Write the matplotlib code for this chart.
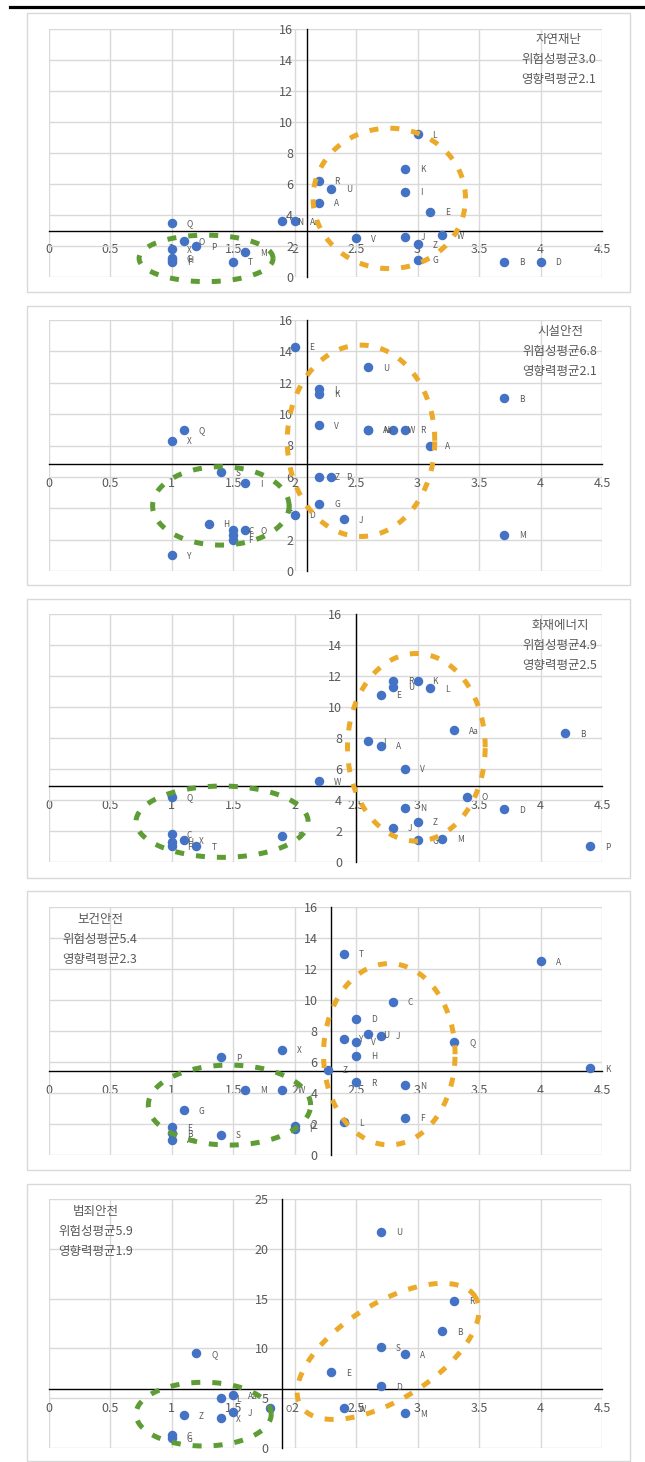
import numpy as np
import matplotlib
matplotlib.use("Agg")
import matplotlib.pyplot as plt
from matplotlib.patches import Rectangle
from matplotlib.lines import Line2D

plt.rcParams["font.family"] = ["Noto Sans CJK KR", "DejaVu Sans"]

# -------------------------------
# Data (x = 영향력, y = 위험성)
# -------------------------------
TITLES = ["자연재난", "시설안전", "화재에너지", "보건안전", "범죄안전"]
RISK_MEAN = [3.0, 6.8, 4.9, 5.4, 5.9]
IMPACT_MEAN = [2.1, 2.1, 2.5, 2.3, 1.9]
Y_MAX = [16, 16, 16, 16, 25]
Y_STEP = [2, 2, 2, 2, 5]

labels_1 = ["A", "B", "C", "D", "E", "F", "G", "H", "I", "J", "K", "L", "M", "N",
            "O", "P", "Q", "R", "T", "U", "V", "W", "X", "Z", "Aa"]
impact_1 = [2.2, 3.7, 1.0, 4.0, 3.1, 1.0, 3.0, 1.0, 2.9, 2.9, 2.9, 3.0, 1.6, 1.9,
            1.1, 1.2, 1.0, 2.2, 1.5, 2.3, 2.5, 3.2, 1.0, 3.0, 2.0]
risk_1 = [4.8, 1.0, 1.2, 1.0, 4.2, 1.0, 1.1, 1.1, 5.5, 2.6, 7.0, 9.2, 1.6, 3.6,
          2.3, 2.0, 3.5, 6.2, 1.0, 5.7, 2.5, 2.7, 1.8, 2.1, 3.6]

labels_2 = ["A", "B", "C", "D", "E", "F", "G", "H", "I", "J", "K", "L", "M", "N",
            "O", "P", "Q", "R", "S", "T", "U", "V", "W", "X", "Y", "Z", "Aa"]
impact_2 = [3.1, 3.7, 1.5, 2.0, 2.0, 1.5, 2.2, 1.3, 1.6, 2.4, 2.2, 2.2, 3.7, 2.6,
            1.6, 2.3, 1.1, 2.9, 1.4, 1.5, 2.6, 2.2, 2.8, 1.0, 1.0, 2.2, 2.6]
risk_2 = [8.0, 11.0, 2.6, 3.6, 14.3, 2.0, 4.3, 3.0, 5.6, 3.3, 11.3, 11.6, 2.3, 9.0,
          2.6, 6.0, 9.0, 9.0, 6.3, 2.3, 13.0, 9.3, 9.0, 8.3, 1.0, 6.0, 9.0]

labels_3 = ["A", "B", "C", "D", "E", "F", "G", "H", "I", "J", "K", "L", "M", "N",
            "O", "P", "Q", "R", "S", "T", "U", "V", "W", "X", "Z", "Aa"]
impact_3 = [2.7, 4.2, 1.0, 3.7, 2.7, 1.0, 3.0, 1.0, 2.6, 2.8, 3.0, 3.1, 3.2, 2.9,
            3.4, 4.4, 1.0, 2.8, 1.9, 1.2, 2.8, 2.9, 2.2, 1.1, 3.0, 3.3]
risk_3 = [7.5, 8.3, 1.8, 3.4, 10.8, 1.0, 1.4, 1.3, 7.8, 2.2, 11.7, 11.2, 1.5, 3.5,
          4.2, 1.0, 4.2, 11.7, 1.7, 1.0, 11.3, 6.0, 5.2, 1.4, 2.6, 8.5]

labels_4 = ["A", "B", "C", "D", "E", "F", "G", "H", "I", "J", "K", "L", "M", "N",
            "O", "P", "Q", "R", "S", "T", "U", "V", "W", "X", "Y", "Z", "Aa"]
impact_4 = [4.0, 1.0, 2.8, 2.5, 1.0, 2.9, 1.1, 2.5, 2.0, 2.7, 4.4, 2.4, 1.6, 2.9,
            2.0, 1.4, 3.3, 2.5, 1.4, 2.4, 2.6, 2.5, 1.9, 1.9, 2.4, 2.27, 1.0]
risk_4 = [12.5, 1.4, 9.9, 8.8, 1.8, 2.4, 2.9, 6.4, 1.7, 7.7, 5.6, 2.1, 4.2, 4.5,
          1.9, 6.3, 7.3, 4.7, 1.3, 13.0, 7.8, 7.3, 4.2, 6.8, 7.5, 5.5, 1.0]

labels_5 = ["A", "B", "C", "D", "E", "G", "J", "L", "M", "O", "Q", "R", "S", "U",
            "W", "X", "Z", "Aa"]
impact_5 = [2.9, 3.2, 1.0, 2.7, 2.3, 1.0, 1.5, 1.4, 2.9, 1.8, 1.2, 3.3, 2.7, 2.7,
            2.4, 1.4, 1.1, 1.5]
risk_5 = [9.4, 11.7, 1.3, 6.2, 7.6, 1.0, 3.6, 5.0, 3.5, 4.0, 9.5, 14.8, 10.1, 21.7,
          4.0, 3.0, 3.3, 5.3]

LABELS = [labels_1, labels_2, labels_3, labels_4, labels_5]
IMPACT = [impact_1, impact_2, impact_3, impact_4, impact_5]
RISK = [risk_1, risk_2, risk_3, risk_4, risk_5]

# -------------------------------
# Style / layout (pixels)
# -------------------------------
W, H = 645, 1462
BLUE = "#4472C4"
GREEN = "#5E9C35"
ORANGE = "#EBAA2A"
GRID = "#D9D9D9"
TEXT = "#595959"

BOX_TOP = [13, 306, 599, 891, 1184]
BOX_BOTTOM = [292, 585, 878, 1170, 1461]
PLOT_TOP = [29, 320, 614, 907, 1199]
PLOT_BOTTOM = [277, 571, 862, 1155, 1448]
PLOT_LEFT, PLOT_RIGHT = 48.7, 602

NOTE_POS = [(559, 40), (560, 332), (560, 626), (100, 919), (96, 1211)]

# circled groups: centre x, centre y, half width (x units), half height (y units), tilt
GREEN_RING = [(1.28, 1.2, 0.545, 1.5, 0), (1.40, 4.15, 0.555, 2.5, 0),
              (1.41, 2.6, 0.70, 2.3, 0), (1.47, 3.22, 0.66, 2.58, 0),
              (1.26, 3.4, 0.55, 3.2, 0)]
ORANGE_RING = [(2.77, 5.07, 0.62, 4.53, 0), (2.54, 8.3, 0.60, 6.1, 0),
               (2.99, 7.4, 0.56, 6.05, 0), (2.77, 6.5, 0.535, 5.85, 0),
               (2.76, 9.7, 0.837, 4.82, 32)]


def ring(ax, spec, color):
    cx, cy, rx, ry, ang = spec
    t = np.linspace(0, 2 * np.pi, 300)
    c = ax.transData.transform((cx, cy))
    sx = (ax.transData.transform((cx + rx, cy)) - c)[0]
    sy = (ax.transData.transform((cx, cy + ry)) - c)[1]
    a = np.deg2rad(ang)
    ex, ey = sx * np.cos(t), sy * np.sin(t)
    px = c[0] + ex * np.cos(a) - ey * np.sin(a)
    py = c[1] + ex * np.sin(a) + ey * np.cos(a)
    pts = ax.transData.inverted().transform(np.column_stack([px, py]))
    ax.plot(pts[:, 0], pts[:, 1], color=color, lw=3.6, ls=(0, (1.8, 2.4)),
            dash_capstyle="butt", clip_on=False, zorder=6)


fig = plt.figure(figsize=(W / 100, H / 100), dpi=100)

# top rule
fig.add_artist(Line2D([10 / W, 1], [1 - 6.5 / H] * 2, color="black", lw=2.3))

for i in range(5):
    # outer chart border
    fig.add_artist(Rectangle((27 / W, 1 - BOX_BOTTOM[i] / H), (630 - 27) / W,
                             (BOX_BOTTOM[i] - BOX_TOP[i]) / H, fill=False,
                             edgecolor=GRID, lw=1))

    ax = fig.add_axes([PLOT_LEFT / W, 1 - PLOT_BOTTOM[i] / H,
                       (PLOT_RIGHT - PLOT_LEFT) / W,
                       (PLOT_BOTTOM[i] - PLOT_TOP[i]) / H])
    ax.set_xlim(0, 4.5)
    ax.set_ylim(0, Y_MAX[i])
    ax.set_xticks(np.arange(0, 4.51, 0.5))
    ax.set_xticklabels(["0", "0.5", "1", "1.5", "2", "2.5", "3", "3.5", "4", "4.5"])
    ax.set_yticks(np.arange(0, Y_MAX[i] + 0.1, Y_STEP[i]))
    ax.grid(True, color=GRID, lw=1, zorder=0)
    ax.set_axisbelow(True)

    for s in ["top", "right"]:
        ax.spines[s].set_visible(False)
    ax.spines["left"].set_position(("data", IMPACT_MEAN[i]))
    ax.spines["bottom"].set_position(("data", RISK_MEAN[i]))
    ax.spines["left"].set_color("black")
    ax.spines["bottom"].set_color("black")
    ax.spines["left"].set_linewidth(1)
    ax.spines["bottom"].set_linewidth(1)
    ax.tick_params(length=0, labelsize=9, labelcolor=TEXT)
    ax.tick_params(axis="x", pad=9)
    ax.tick_params(axis="y", pad=10)

    ax.scatter(IMPACT[i], RISK[i], s=34, color=BLUE, zorder=4, clip_on=False)
    for lab, x, y in zip(LABELS[i], IMPACT[i], RISK[i]):
        ax.annotate(lab, (x, y), xytext=(15, -1), textcoords="offset pixels",
                    ha="left", va="center", fontsize=6, color=TEXT, zorder=5)

    ring(ax, GREEN_RING[i], GREEN)
    ring(ax, ORANGE_RING[i], ORANGE)

    nx, ny = NOTE_POS[i]
    notes = [TITLES[i], f"위험성평균{RISK_MEAN[i]:.1f}", f"영향력평균{IMPACT_MEAN[i]:.1f}"]
    for k, txt in enumerate(notes):
        fig.text(nx / W, 1 - (ny + 20 * k) / H, txt, ha="center", va="center",
                 fontsize=9, color=TEXT)

fig.savefig("out.png", dpi=100)
